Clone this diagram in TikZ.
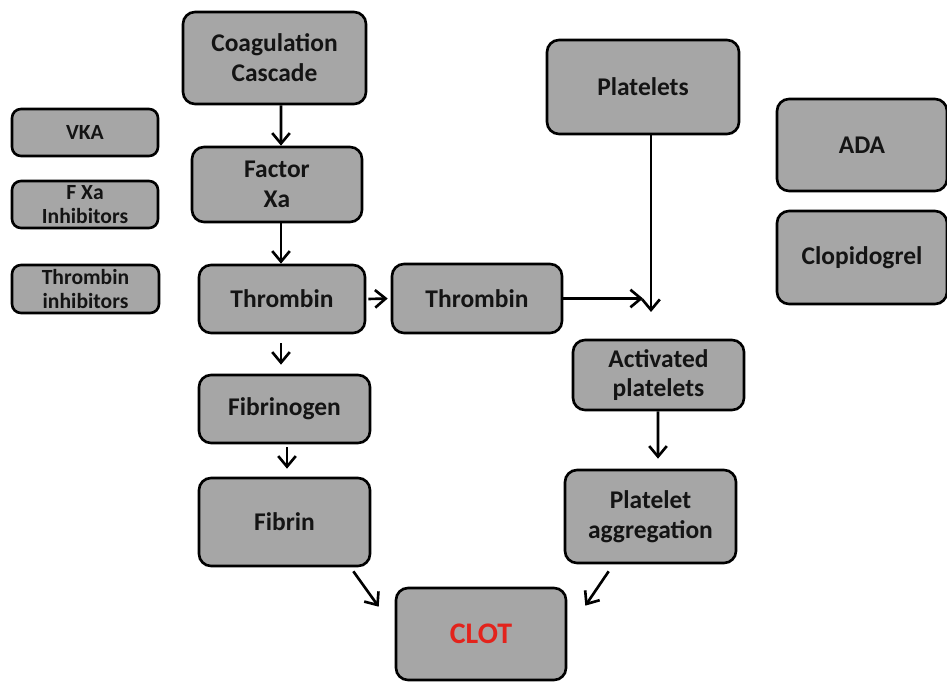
\documentclass[tikz,border=0pt]{standalone}
\usepackage{fontspec}
\setmainfont{Carlito}
\usetikzlibrary{arrows.meta,calc}
\definecolor{boxgray}{HTML}{A6A6A6}
\definecolor{txt}{HTML}{141414}
\definecolor{clotred}{HTML}{E3231C}
\begin{document}
\begin{tikzpicture}[x=0.02cm,y=-0.02cm,
  box/.style={draw=black,line width=1.5pt,fill=boxgray,rounded corners=0.24cm,
    align=center,text=txt,font=\fontsize{14.5}{17}\selectfont\bfseries,inner sep=0pt},
  sbox/.style={box,rounded corners=0.18cm,font=\fontsize{12.3}{13.5}\selectfont\bfseries},
  arr/.style={-{Straight Barb[length=6pt,width=10pt,line width=1.5pt]},line width=1.5pt,black}]
\useasboundingbox (0,0) rectangle (947,682);
\node[box,minimum width={183*0.02cm},minimum height={92*0.02cm}] (coag) at (274.5,58) {Coagulation\\Cascade};
\node[box,minimum width={170*0.02cm},minimum height={75*0.02cm}] (fxa) at (277,184.5) {Factor\\Xa};
\node[box,minimum width={166*0.02cm},minimum height={68*0.02cm}] (thr1) at (282,299) {Thrombin};
\node[box,minimum width={170*0.02cm},minimum height={69*0.02cm}] (thr2) at (477,298.5) {Thrombin};
\node[box,minimum width={171*0.02cm},minimum height={68*0.02cm}] (fbg) at (284.5,409) {Fibrinogen};
\node[box,minimum width={171*0.02cm},minimum height={88*0.02cm}] (fib) at (284.5,522) {Fibrin};
\node[box,minimum width={170*0.02cm},minimum height={92*0.02cm},text=clotred,font=\fontsize{17}{20}\selectfont\bfseries] (clot) at (481,634) {CLOT};
\node[box,minimum width={192*0.02cm},minimum height={94*0.02cm}] (plt) at (643,87) {Platelets};
\node[box,minimum width={171*0.02cm},minimum height={70*0.02cm}] (act) at (658.5,375) {Activated\\platelets};
\node[box,minimum width={171*0.02cm},minimum height={93*0.02cm}] (agg) at (650.5,516.5) {Platelet\\aggregation};
\node[sbox,minimum width={146*0.02cm},minimum height={47*0.02cm}] (vka) at (85,132.5) {VKA};
\node[sbox,minimum width={146*0.02cm},minimum height={47*0.02cm}] (fxi) at (85,204.5) {F Xa\\Inhibitors};
\node[sbox,minimum width={147*0.02cm},minimum height={48*0.02cm}] (thi) at (85.5,289) {Thrombin\\inhibitors};
\node[box,minimum width={170*0.02cm},minimum height={92*0.02cm}] (ada) at (862,145) {ADA};
\node[box,minimum width={170*0.02cm},minimum height={93*0.02cm}] (clo) at (862,257.5) {Clopidogrel};
\coordinate (pltend) at (651,312);
\coordinate (thrend) at (643,298.5);
% arrows
\draw[arr] ($(coag.south)+(6.5,0)$) -- ($(fxa.north)+(4,0)$);
\draw[arr] ($(fxa.south)+(4,0)$) -- ($(thr1.north)+(-1,0)$);
\draw[arr] ($(thr1.east)+(2,0)$) -- ($(thr2.west)+(-3,0)$);
\draw[arr] ($(thr1.south)+(-1,9)$) -- ($(fbg.north)+(-3.5,-9)$);
\draw[arr] ($(fbg.south)+(2.5,3)$) -- ($(fib.north)+(2.5,-8)$);
\draw[arr] ($(plt.south)+(8,0)$) -- (pltend);
\draw[arr] (thr2.east) -- (thrend);
\draw[arr] ($(act.south)+(-0.5,0)$) -- ($(agg.north)+(7.5,-10)$);
\draw[arr] ($(fib.south east)+(-18,4)$) -- ($(clot.north west)+(-16,20)$);
\draw[arr] ($(agg.south west)+(45,7)$) -- ($(clot.north east)+(18,19)$);
\end{tikzpicture}
\end{document}
